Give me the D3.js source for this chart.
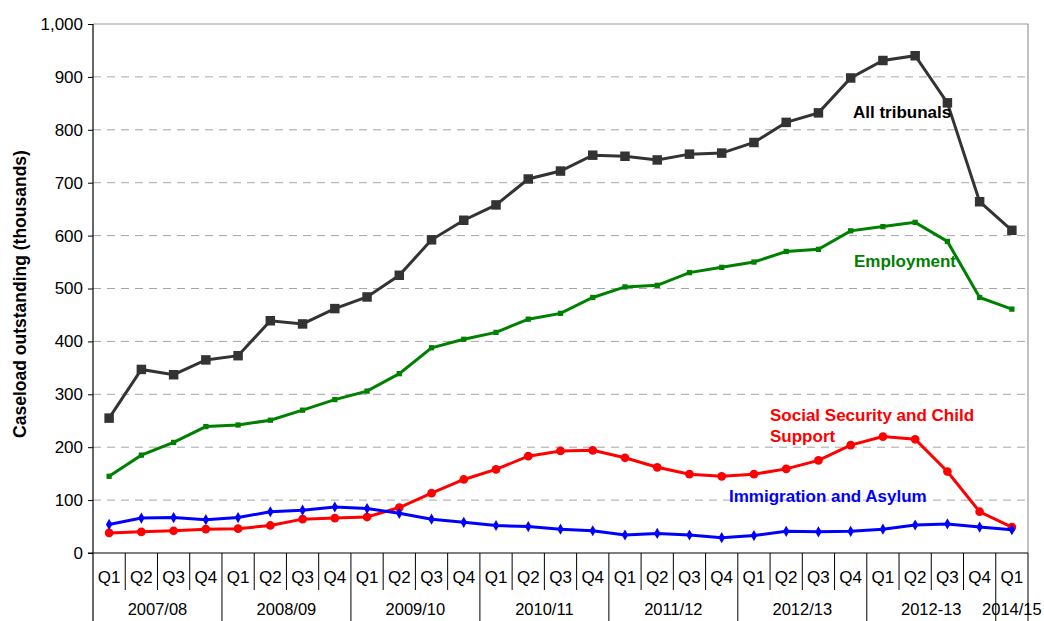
<!DOCTYPE html>
<html lang="en">
<head>
  <meta charset="utf-8">
  <title>Caseload outstanding</title>
  <script src="https://d3js.org/d3.v7.min.js"></script>
  <style>
    body { margin: 0; background: #fff; }
    text { font-family: "Liberation Sans", Arial, sans-serif; }
  </style>
</head>
<body>
  <div id="chart"></div>
  <script>
    // width and height
    var w = 1044;
    var h = 621;

    // categories
    var years = ["2007/08", "2008/09", "2009/10", "2010/11", "2011/12", "2012/13", "2012-13", "2014/15"];
    var quarters = ["Q1", "Q2", "Q3", "Q4"];
    var yTicks = [0, 100, 200, 300, 400, 500, 600, 700, 800, 900, 1000];

    // series values (thousands)
    var allTribunals = [255, 347, 337, 365, 373, 439, 433, 462, 484, 525, 592, 629, 658, 707, 722, 752,
      750, 743, 754, 756, 776, 814, 832, 898, 931, 940, 851, 664, 610];
    var employment = [145, 185, 209, 239, 242, 251, 270, 290, 306, 339, 388, 404, 417, 442, 453, 483,
      503, 506, 530, 540, 550, 570, 574, 609, 617, 625, 589, 483, 461];
    var socialSecurity = [38, 40, 42, 45, 46, 52, 64, 66, 68, 86, 113, 139, 158, 183, 193, 194,
      180, 162, 149, 145, 149, 159, 175, 204, 220, 215, 154, 78, 49];
    var immigration = [54, 66, 67, 63, 67, 78, 81, 87, 84, 75, 64, 58, 52, 50, 45, 42,
      34, 37, 34, 29, 33, 41, 40, 41, 45, 53, 55, 49, 44];

    // one entry per quarter: year index + quarter label
    var cats = [];
    years.forEach(function (y, yi) {
      var n = (yi === years.length - 1) ? 1 : 4;
      for (var q = 0; q < n; q++) cats.push({ year: y, yi: yi, q: quarters[q], key: y + " " + quarters[q] });
    });

    var margin = { left: 93, right: 16, top: 24, bottom: 68 };
    var x = d3.scaleBand()
      .domain(cats.map(function (d) { return d.key; }))
      .range([margin.left, w - margin.right]);
    var y = d3.scaleLinear().domain([0, 1000]).range([h - margin.bottom, margin.top]);

    var svg = d3.select("#chart").append("svg")
      .attr("width", w)
      .attr("height", h);

    var x0 = margin.left, x1 = w - margin.right, yb = y(0), yt = y(1000);

    // gridlines
    svg.append("g")
      .selectAll("line")
      .data(yTicks.filter(function (t) { return t > 0 && t < 1000; }))
      .enter()
      .append("line")
      .attr("x1", x0).attr("x2", x1)
      .attr("y1", function (d) { return y(d); })
      .attr("y2", function (d) { return y(d); })
      .style("stroke", "#a6a6a6")
      .style("stroke-width", 1)
      .style("stroke-dasharray", "8,6");

    // plot border (top / right)
    svg.append("path")
      .attr("d", "M" + x0 + "," + yt + "H" + x1 + "V" + yb)
      .style("fill", "none")
      .style("stroke", "#999")
      .style("stroke-width", 1.2);

    // y axis
    var yAxis = svg.append("g")
      .attr("transform", "translate(" + x0 + ",0)")
      .call(d3.axisLeft(y).tickValues(yTicks).tickSize(5).tickPadding(5).tickFormat(d3.format(",")));
    yAxis.select(".domain").remove();
    yAxis.selectAll("line").style("stroke", "#000");
    yAxis.selectAll("text").style("font-size", "17px").style("fill", "#000");
    svg.append("line")
      .attr("x1", x0).attr("x2", x0).attr("y1", yt).attr("y2", h)
      .style("stroke", "#000").style("stroke-width", 1.2);

    // x axis baseline
    svg.append("line")
      .attr("x1", x0 - 5).attr("x2", x1).attr("y1", yb).attr("y2", yb)
      .style("stroke", "#000").style("stroke-width", 1.2);

    // quarter dividers
    var bw = x.bandwidth();
    svg.append("g")
      .selectAll("line")
      .data(cats)
      .enter()
      .append("line")
      .attr("x1", function (d) { return x(d.key) + bw; })
      .attr("x2", function (d) { return x(d.key) + bw; })
      .attr("y1", yb)
      .attr("y2", function (d, i) {
        var next = cats[i + 1];
        return (!next || next.yi !== d.yi) ? h : yb + 37;
      })
      .style("stroke", "#000")
      .style("stroke-width", 1);

    // quarter labels
    svg.append("g")
      .selectAll("text")
      .data(cats)
      .enter()
      .append("text")
      .attr("x", function (d) { return x(d.key) + bw / 2; })
      .attr("y", yb + 30)
      .attr("text-anchor", "middle")
      .style("font-size", "17px")
      .text(function (d) { return d.q; });

    // year labels
    svg.append("g")
      .selectAll("text")
      .data(years)
      .enter()
      .append("text")
      .attr("x", function (d, i) {
        var c = cats.filter(function (k) { return k.yi === i; });
        return (x(c[0].key) + x(c[c.length - 1].key) + bw) / 2;
      })
      .attr("y", yb + 62)
      .attr("text-anchor", "middle")
      .style("font-size", "16.5px")
      .text(function (d) { return d; });

    // y axis title
    svg.append("text")
      .attr("transform", "translate(26," + 294 + ") rotate(-90)")
      .attr("text-anchor", "middle")
      .style("font-size", "17.5px")
      .style("font-weight", "bold")
      .text("Caseload outstanding (thousands)");

    var cx = function (d, i) { return x(cats[i].key) + bw / 2; };
    var line = d3.line().x(cx).y(function (d) { return y(d); });

    var series = [
      { values: allTribunals, color: "#333333", symbol: d3.symbolSquare, size: 90 },
      { values: employment, color: "#008000", symbol: d3.symbolSquare, size: 28 },
      { values: socialSecurity, color: "#ff0000", symbol: d3.symbolCircle, size: 60 },
      { values: immigration, color: "#0000ff", symbol: d3.symbolDiamond, size: 36 }
    ];

    series.forEach(function (s) {
      svg.append("path")
        .datum(s.values)
        .attr("d", line)
        .style("fill", "none")
        .style("stroke", s.color)
        .style("stroke-width", 3);
      svg.append("g")
        .selectAll("path")
        .data(s.values)
        .enter()
        .append("path")
        .attr("transform", function (d, i) { return "translate(" + cx(d, i) + "," + y(d) + ")"; })
        .attr("d", d3.symbol().type(s.symbol).size(s.size))
        .style("fill", s.color);
    });

    // series labels
    var labels = [
      { text: ["All tribunals"], x: 853, y: 118, color: "#000" },
      { text: ["Employment"], x: 854, y: 267, color: "#008000" },
      { text: ["Social Security and Child", "Support"], x: 770, y: 421, color: "#ff0000" },
      { text: ["Immigration and Asylum"], x: 729, y: 502, color: "#0000ff" }
    ];
    labels.forEach(function (l) {
      var t = svg.append("text")
        .attr("x", l.x)
        .attr("y", l.y)
        .style("font-size", "17px")
        .style("font-weight", "bold")
        .style("fill", l.color);
      l.text.forEach(function (s, i) {
        t.append("tspan").attr("x", l.x).attr("dy", i ? 21 : 0).text(s);
      });
    });
  </script>
</body>
</html>
